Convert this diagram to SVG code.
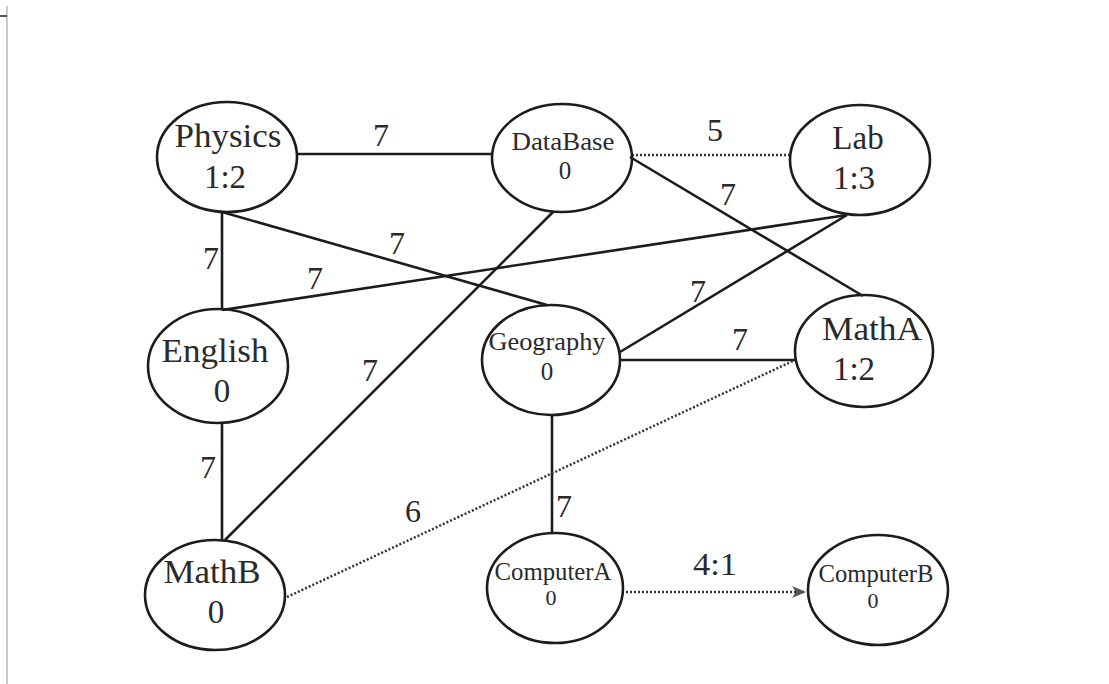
<svg xmlns="http://www.w3.org/2000/svg" width="1109" height="684" viewBox="0 0 1109 684">
  <style>
    .node ellipse { fill: none; stroke: #1c1c1c; stroke-width: 2.6; }
    .big { font-family: "Liberation Serif", "Times New Roman", serif; font-size: 33px; fill: #2a2a2a; text-anchor: middle; }
    .small { font-family: "Liberation Serif", "Times New Roman", serif; font-size: 25px; fill: #2a2a2a; text-anchor: middle; }
    .lbl { font-family: "Liberation Serif", "Times New Roman", serif; font-size: 32px; fill: #2a2a2a; text-anchor: middle; }
    .solid { stroke: #1c1c1c; stroke-width: 2.6; fill: none; }
    .dot { stroke: #333; stroke-width: 2.5; stroke-dasharray: 2 2; fill: none; }
  </style>
  <defs>
    <marker id="arrow" viewBox="0 0 14 12" refX="13" refY="6" markerWidth="14" markerHeight="12" markerUnits="userSpaceOnUse" orient="auto">
      <path d="M0,0 L14,6 L0,12 L4,6 Z" fill="#555"/>
    </marker>
  </defs>

  <rect width="1109" height="684" fill="#ffffff"/>
  <!-- page frame -->
  <line x1="7" y1="6" x2="7" y2="684" stroke="#c8c8c8" stroke-width="2"/>
  <line x1="0" y1="16" x2="7" y2="16" stroke="#555" stroke-width="2"/>

  <g id="connectors">
    <line class="solid" x1="297" y1="154" x2="492" y2="154"/>
    <line class="dot" x1="632" y1="155" x2="790" y2="155"/>
    <line class="solid" x1="630" y1="157" x2="863" y2="296"/>
    <line class="solid" x1="222" y1="212" x2="222" y2="310"/>
    <line class="solid" x1="222" y1="212" x2="547" y2="305"/>
    <line class="solid" x1="222" y1="310" x2="847" y2="215"/>
    <line class="solid" x1="553" y1="212" x2="225" y2="540"/>
    <line class="solid" x1="847" y1="215" x2="620" y2="352"/>
    <line class="solid" x1="620" y1="360" x2="795" y2="360"/>
    <line class="solid" x1="222" y1="423" x2="222" y2="540"/>
    <line class="solid" x1="552" y1="415" x2="552" y2="533"/>
    <line class="dot" x1="287" y1="597" x2="795" y2="360"/>
    <line class="dot" x1="626" y1="592" x2="805" y2="592" marker-end="url(#arrow)"/>

    <text class="lbl" x="381" y="146">7</text>
    <text class="lbl" x="715" y="141">5</text>
    <text class="lbl" x="728" y="205">7</text>
    <text class="lbl" x="211" y="269">7</text>
    <text class="lbl" x="397" y="254">7</text>
    <text class="lbl" x="315" y="289">7</text>
    <text class="lbl" x="370" y="381">7</text>
    <text class="lbl" x="698" y="302">7</text>
    <text class="lbl" x="740" y="350">7</text>
    <text class="lbl" x="208" y="478">7</text>
    <text class="lbl" x="564" y="517">7</text>
    <text class="lbl" x="413" y="522">6</text>
    <text class="lbl" x="715" y="575" textLength="44" lengthAdjust="spacingAndGlyphs">4:1</text>
  </g>

  <g id="physics" class="node">
    <ellipse cx="227" cy="157" rx="70" ry="55"/>
    <text class="big" x="228" y="147" textLength="107" lengthAdjust="spacingAndGlyphs">Physics</text>
    <text class="big" x="225" y="188">1:2</text>
  </g>
  <g id="database" class="node">
    <ellipse cx="562" cy="158" rx="70" ry="54"/>
    <text class="small" x="563" y="150" textLength="103" lengthAdjust="spacingAndGlyphs">DataBase</text>
    <text class="small" x="565" y="179">0</text>
  </g>
  <g id="lab" class="node">
    <ellipse cx="860" cy="160" rx="70" ry="55"/>
    <text class="big" x="858" y="149">Lab</text>
    <text class="big" x="854" y="189">1:3</text>
  </g>
  <g id="english" class="node">
    <ellipse cx="218" cy="366" rx="70" ry="57"/>
    <text class="big" x="215" y="362" textLength="107" lengthAdjust="spacingAndGlyphs">English</text>
    <text class="big" x="222" y="402">0</text>
  </g>
  <g id="geography" class="node">
    <ellipse cx="551" cy="360" rx="69" ry="55"/>
    <text class="small" x="547" y="350" textLength="117" lengthAdjust="spacingAndGlyphs">Geography</text>
    <text class="small" x="547" y="380">0</text>
  </g>
  <g id="matha" class="node">
    <ellipse cx="864" cy="351" rx="69" ry="56"/>
    <text class="big" x="872" y="340" textLength="100" lengthAdjust="spacingAndGlyphs">MathA</text>
    <text class="big" x="854" y="380">1:2</text>
  </g>
  <g id="mathb" class="node">
    <ellipse cx="215" cy="595" rx="70" ry="55"/>
    <text class="big" x="212" y="583" textLength="97" lengthAdjust="spacingAndGlyphs">MathB</text>
    <text class="big" x="216" y="623">0</text>
  </g>
  <g id="computera" class="node">
    <ellipse cx="555" cy="588" rx="68" ry="55"/>
    <text class="small" x="553" y="580" textLength="117" lengthAdjust="spacingAndGlyphs">ComputerA</text>
    <text class="small" x="551" y="605" style="font-size:22px">0</text>
  </g>
  <g id="computerb" class="node">
    <ellipse cx="878" cy="590" rx="70" ry="55"/>
    <text class="small" x="876" y="582" textLength="115" lengthAdjust="spacingAndGlyphs">ComputerB</text>
    <text class="small" x="873" y="608" style="font-size:22px">0</text>
  </g>
</svg>
